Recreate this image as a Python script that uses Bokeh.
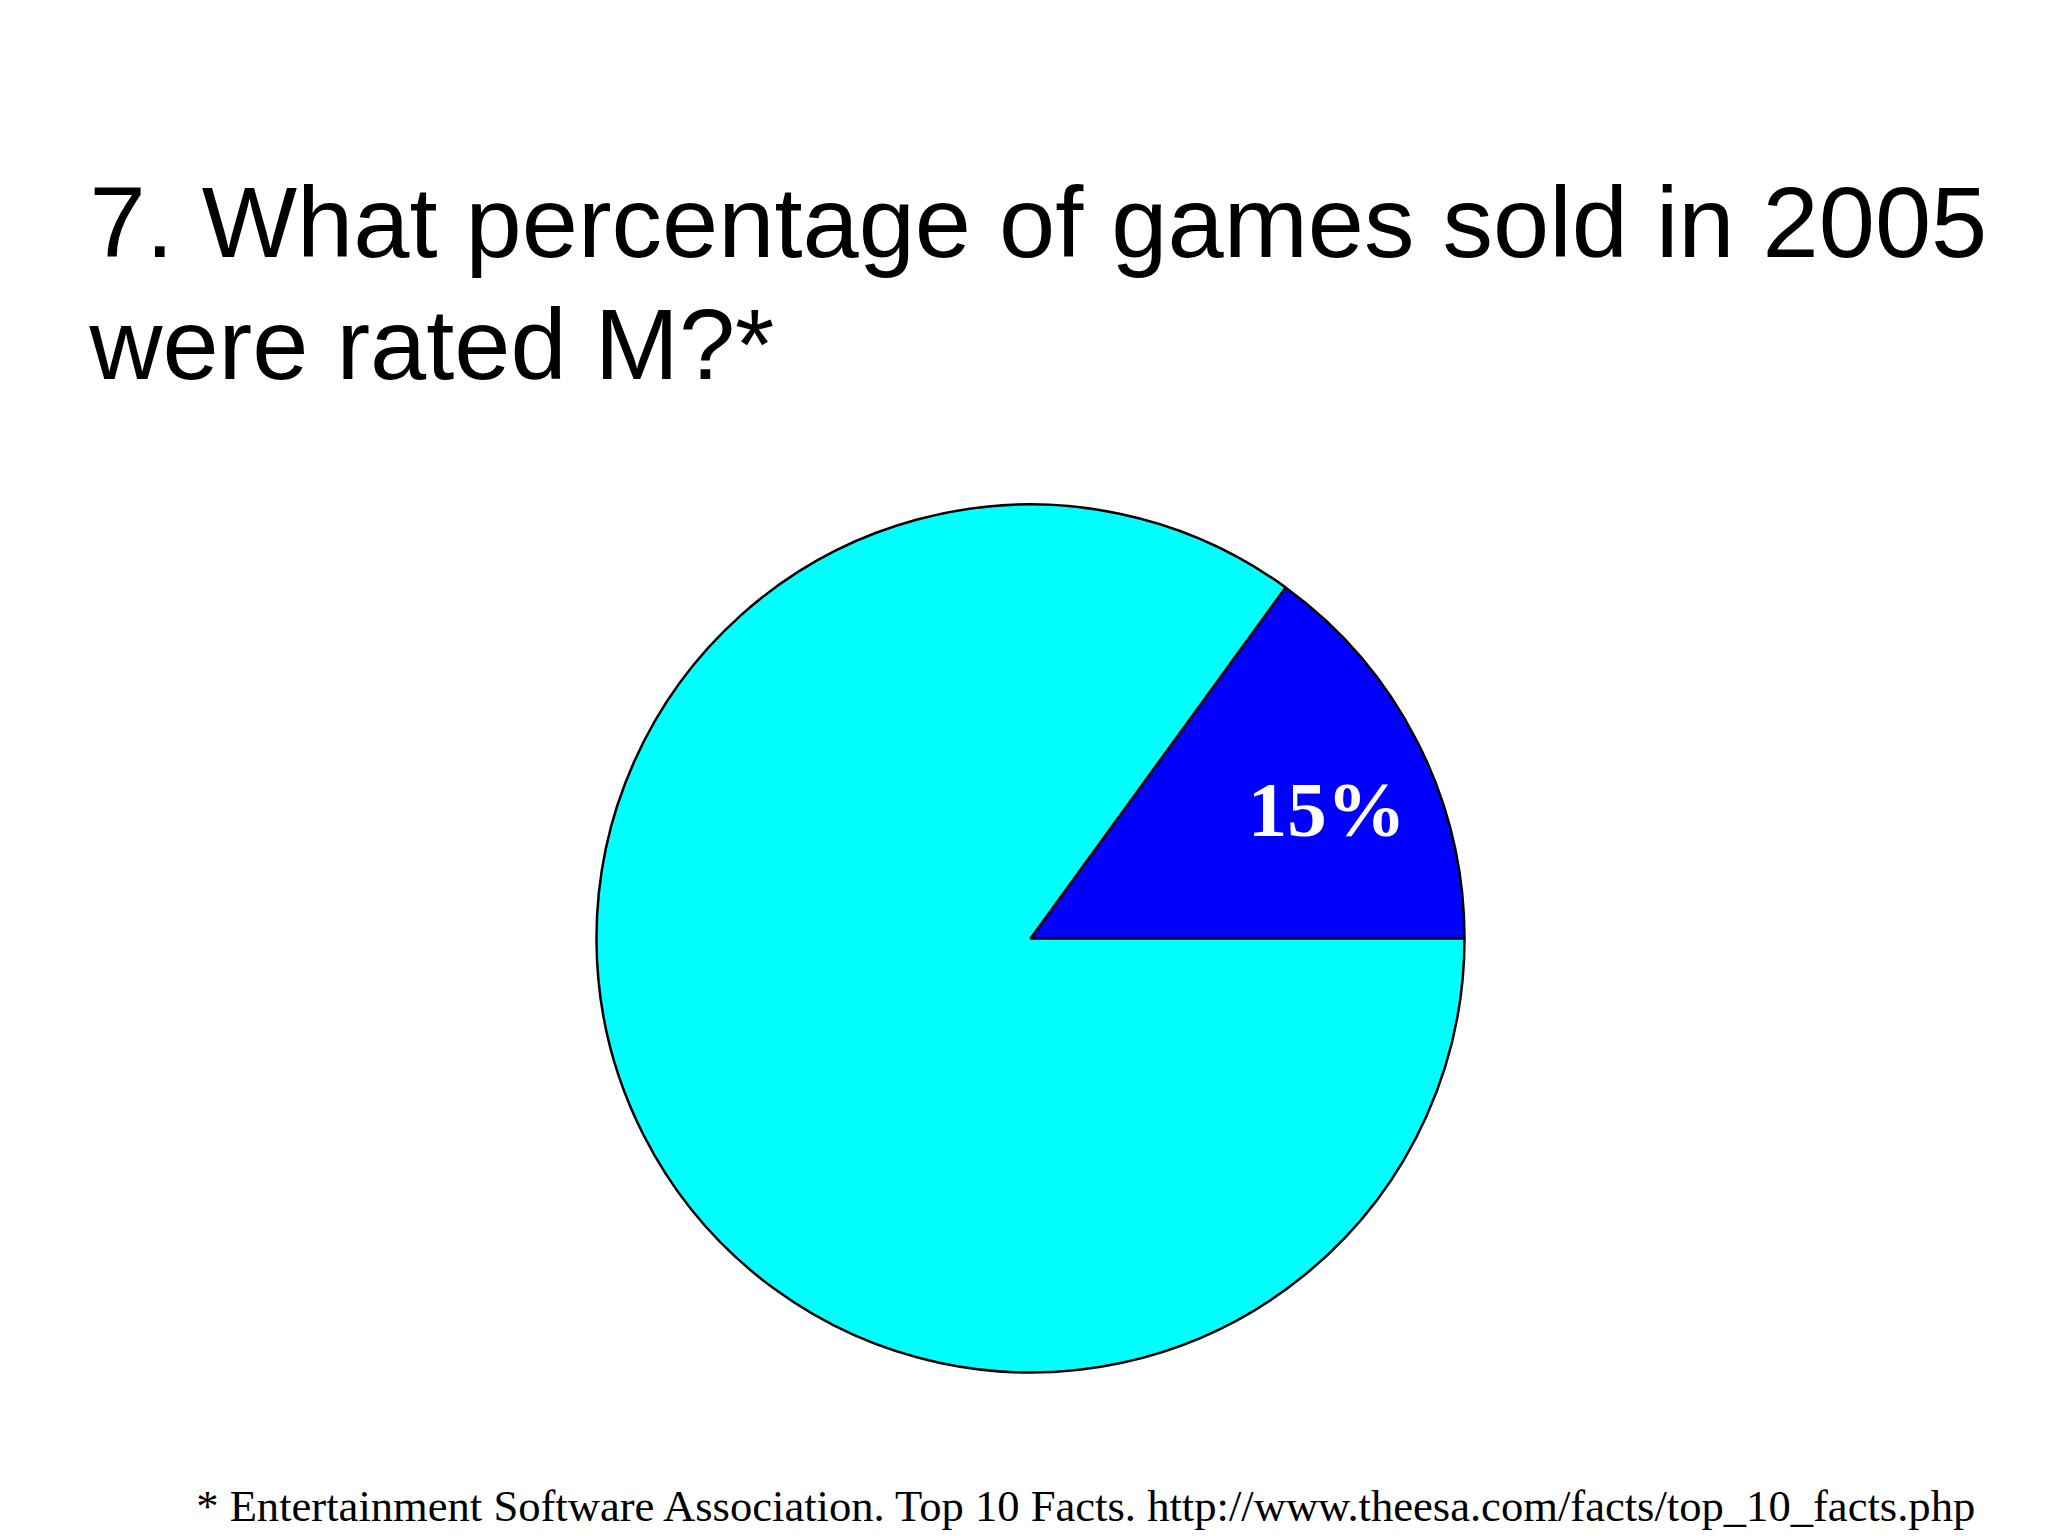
import math
from bokeh.plotting import figure
from bokeh.models import Range1d, ColumnDataSource
from bokeh.core.properties import value
from bokeh.embed import file_html
from bokeh.resources import INLINE

# ---- data ----
categories = ["Rated M", "Other ratings"]
shares = [15, 85]
colors = ["#0000FF", "#00FFFF"]
slice_labels = ["15%", ""]
title_lines = ["7. What percentage of games sold in 2005", "were rated M?*"]
footnote = "* Entertainment Software Association. Top 10 Facts. http://www.theesa.com/facts/top_10_facts.php"

W, H = 2048, 1536
p = figure(width=W, height=H, output_backend="svg", toolbar_location=None,
           x_range=Range1d(0, 2048), y_range=Range1d(0, 1536),
           min_border=0, min_border_left=0, min_border_right=0,
           min_border_top=0, min_border_bottom=0)
p.axis.visible = False
p.grid.visible = False
p.outline_line_color = None
p.background_fill_color = "white"
p.border_fill_color = "white"

def Y(py):
    return 1536 - py

# pie geometry (layout)
cx, cy, R = 1030, Y(938), 434
total = sum(shares)
starts, ends, mids = [], [], []
acc = 0.0
for s in shares:
    a0 = acc / total * 2 * math.pi
    acc += s
    a1 = acc / total * 2 * math.pi
    starts.append(a0)
    ends.append(a1)
    mids.append((a0 + a1) / 2)

src = ColumnDataSource(dict(cat=categories, start=starts, end=ends, color=colors,
                            x=[cx] * 2, y=[cy] * 2))
p.wedge(x="x", y="y", radius=R, start_angle="start", end_angle="end",
        fill_color="color", line_color="black", line_width=2.5, source=src)

lab_r = 0.745 * R
lab_ang = [m - 0.06 for m in mids]
lsrc = ColumnDataSource(dict(
    x=[cx + lab_r * math.cos(a) for a in lab_ang],
    y=[cy + lab_r * math.sin(a) for a in lab_ang],
    t=slice_labels))
p.text(x="x", y="y", text="t", source=lsrc, text_color="white",
       text_font=value("Liberation Serif"), text_font_style="bold",
       text_font_size="79px", text_align="center", text_baseline="middle")

# title
p.text(x=[89, 89], y=[Y(221), Y(343)], text=title_lines, text_color="black",
       text_font=value("Liberation Sans"), text_font_size="101px",
       text_align="left", text_baseline="alphabetic")

# footnote
p.text(x=[1978], y=[Y(1505)], text=[footnote], text_color="black",
       text_font=value("Liberation Serif"), text_font_size="44.6px",
       text_align="right", text_baseline="alphabetic")

open("out.html", "w").write(file_html(p, INLINE))
